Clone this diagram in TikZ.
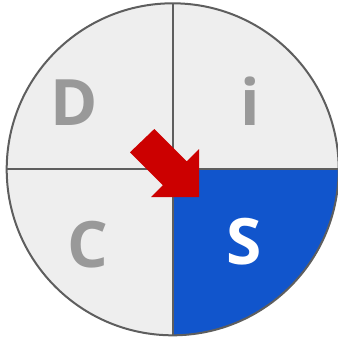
\documentclass[tikz,border=0pt]{standalone}
\usepackage{fontspec}
\setsansfont{Open Sans}
\usetikzlibrary{positioning}
\definecolor{quadgray}{HTML}{EEEEEE}
\definecolor{edgegray}{HTML}{5E5E5E}
\definecolor{lettergray}{HTML}{999999}
\definecolor{discblue}{HTML}{1155CC}
\definecolor{arrowred}{HTML}{CC0000}

\begin{document}
\begin{tikzpicture}[x=1pt,y=-1pt,
    letter/.style={font=\sffamily\bfseries\fontsize{64}{64}\selectfont, text=lettergray, inner sep=0pt},
    edge/.style={draw=edgegray, line width=2pt}]
    \useasboundingbox (0,0) rectangle (338,341);
    \coordinate (O) at (172.7,169.3);

    % Draw Quadrants
    \fill[quadgray] (O) circle (166);
    \fill[discblue] (O) -- ++(166,0) arc (0:90:166) -- cycle;
    \draw[edge] (O) ++(0,-166) -- ++(0,332);
    \draw[edge] (O) ++(-166,0) -- ++(332,0);
    \draw[edge] (O) circle (166);

    % Letters
    \node[letter] (nD) at (74,103) {D};
    \node[letter] (ni) at (250,101) {i};
    \node[letter] (nC) at (88,245) {C};
    \node[letter, text=white] (nS) at (244,242) {S};

    % Arrow into S
    \fill[arrowred] (154.3,129) -- (186.7,161.4) -- (199,149) -- (199,197)
        -- (151,197) -- (162.9,185.2) -- (130,152.3) -- cycle;
\end{tikzpicture}
\end{document}
